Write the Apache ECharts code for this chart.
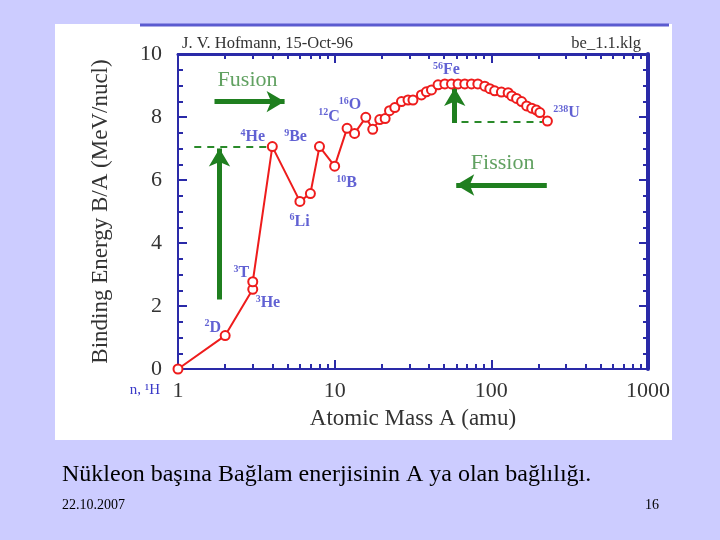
<!DOCTYPE html>
<html>
<head>
<meta charset="utf-8">
<script src="https://cdn.jsdelivr.net/npm/echarts@6/dist/echarts.min.js"></script>
<style>html,body{margin:0;padding:0;background:#ccccff;}#c{width:720px;height:540px;}</style>
</head>
<body>
<div id="c"></div>
<script>
// ---- data ----
var massA = [1, 2, 3, 3, 4, 6, 7, 8, 10, 12, 13.4, 15.8, 17.5, 19.4, 21, 22.4, 24.2, 26.7, 29.4, 31.6, 35.8, 38.5, 41.5, 45.7, 50.5, 55.7, 61.3, 67.7, 74.7, 82, 90.8, 97.8, 105, 116, 128, 135, 145, 156, 168, 181, 194, 204, 228];
var bindingE = [0, 1.06, 2.53, 2.77, 7.06, 5.32, 5.57, 7.06, 6.44, 7.64, 7.48, 7.99, 7.61, 7.92, 7.95, 8.20, 8.30, 8.49, 8.54, 8.54, 8.70, 8.80, 8.86, 9.02, 9.05, 9.05, 9.05, 9.05, 9.05, 9.05, 8.98, 8.90, 8.83, 8.79, 8.77, 8.67, 8.59, 8.49, 8.35, 8.28, 8.22, 8.14, 7.87];

var isoMass = ['2', '3', '3', '4', '9', '6', '10', '12', '16', '56', '238'];
var isoSymbol = ['D', 'T', 'He', 'He', 'Be', 'Li', 'B', 'C', 'O', 'Fe', 'U'];
var isoA = [1.67, 2.54, 3.75, 3.0, 5.63, 5.98, 11.9, 9.2, 12.5, 51.6, 302];
var isoB = [1.32, 3.04, 2.09, 7.36, 7.36, 4.68, 5.9, 8.01, 8.38, 9.49, 8.12];

var xTickValues = [0, 1, 2, 3];           // log10 positions of decades
var xTickLabels = ['1', '10', '100', '1000'];
var xMinorMultipliers = [2, 3, 4, 5, 6, 7, 8, 9];
var yTickInterval = 2;

var annoTexts = ['Fusion', 'Fission'];
var annoA = [2.78, 118];
var annoB = [9.17, 6.54];

// arrows [A1,B1,A2,B2]
var arrowFusion = [1.71, 8.49, 4.79, 8.49];
var arrowUp = [1.84, 2.21, 1.84, 7.0];
var arrowFission = [226, 5.84, 59.7, 5.84];
var arrowFe = [58.4, 7.81, 58.4, 8.92];
var dashHe = [1.27, 7.06, 4.2, 7.06];
var dashU = [64.5, 7.84, 212, 7.84];

// ---- chart ----
var blue = '#2a2aa8';
var green = '#1f7f1f';
var serif = 'Liberation Serif';

var minorPos = [];
for (var k = 0; k < 3; k++) {
  xMinorMultipliers.forEach(function (m) { minorPos.push(Math.log10(m) + k); });
}

var lineData = massA.map(function (a, i) { return [a, bindingE[i]]; });
var isoData = isoSymbol.map(function (n, i) {
  return { name: n, mass: isoMass[i], value: [isoA[i], isoB[i]],
    label: { formatter: '{s|' + isoMass[i] + '}{n|' + n + '}' } };
});
var annoData = annoTexts.map(function (n, i) { return { name: n, value: [annoA[i], annoB[i]] }; });

function seg(p) { return [{ coord: [p[0], p[1]] }, { coord: [p[2], p[3]] }]; }

var chart = echarts.init(document.getElementById('c'), null, { renderer: 'canvas' });
var tickAxisBase = {
  type: 'value', min: 0, max: 3, interval: 1,
  axisLine: { show: false, onZero: false },
  splitLine: { show: false },
  axisLabel: { show: false }
};
chart.setOption({
  backgroundColor: '#ccccff',
  animation: false,
  graphic: [
    { type: 'rect', shape: { x: 55, y: 24, width: 617, height: 416 }, style: { fill: '#ffffff' }, z: -10 },
    { type: 'line', shape: { x1: 140, y1: 25, x2: 669, y2: 25 }, style: { stroke: '#5b5bd0', lineWidth: 3 }, z: -5 },
    { type: 'text', x: 182, y: 44, style: { text: 'J. V. Hofmann, 15-Oct-96', font: '16.5px "Liberation Serif"', fill: '#333', textVerticalAlign: 'middle' } },
    { type: 'text', x: 641, y: 44, style: { text: 'be_1.1.klg', font: '16.5px "Liberation Serif"', fill: '#333', textAlign: 'right', textVerticalAlign: 'middle' } },
    { type: 'text', x: 160, y: 390, style: { text: 'n, ¹H', font: '15px "Liberation Serif"', fill: '#3a3ac8', textAlign: 'right', textVerticalAlign: 'middle' } },
    { type: 'text', x: 62, y: 475, style: { text: 'Nükleon başına Bağlam enerjisinin A ya olan bağlılığı.', font: '24px "Liberation Serif"', fill: '#000', textVerticalAlign: 'middle' } },
    { type: 'text', x: 62, y: 505, style: { text: '22.10.2007', font: '14px "Liberation Serif"', fill: '#000', textVerticalAlign: 'middle' } },
    { type: 'text', x: 659, y: 505, style: { text: '16', font: '14px "Liberation Serif"', fill: '#000', textAlign: 'right', textVerticalAlign: 'middle' } }
  ],
  grid: { left: 178, right: 72, top: 54, bottom: 171, containLabel: false },
  xAxis: [
    { type: 'log', logBase: 10, min: 1, max: 1000, show: false },
    Object.assign({}, tickAxisBase, {
      position: 'bottom',
      name: 'Atomic Mass A (amu)', nameLocation: 'middle', nameGap: 38,
      nameTextStyle: { fontFamily: serif, fontSize: 23, color: '#333' },
      axisLine: { show: true, onZero: false, lineStyle: { color: blue, width: 2 } },
      axisTick: { show: true, inside: true, length: 9, lineStyle: { color: blue, width: 2 } },
      axisLabel: { show: true, margin: 11, fontFamily: serif, fontSize: 22, color: '#333',
        formatter: function (v) { return xTickLabels[xTickValues.indexOf(Math.round(v))]; } }
    }),
    Object.assign({}, tickAxisBase, {
      position: 'bottom',
      axisTick: { show: true, inside: true, length: 5, customValues: minorPos, lineStyle: { color: blue, width: 2 } }
    }),
    Object.assign({}, tickAxisBase, {
      position: 'top',
      axisLine: { show: true, onZero: false, lineStyle: { color: blue, width: 3 } },
      axisTick: { show: true, inside: true, length: 9, lineStyle: { color: blue, width: 2 } }
    }),
    Object.assign({}, tickAxisBase, {
      position: 'top',
      axisTick: { show: true, inside: true, length: 5, customValues: minorPos, lineStyle: { color: blue, width: 2 } }
    })
  ],
  yAxis: [
    {
      type: 'value', min: 0, max: 10, interval: yTickInterval, position: 'left',
      name: 'Binding Energy B/A (MeV/nucl)', nameLocation: 'middle', nameGap: 66, nameRotate: 90,
      nameTextStyle: { fontFamily: serif, fontSize: 23, color: '#333' },
      axisLine: { show: true, onZero: false, lineStyle: { color: blue, width: 2 } },
      axisTick: { show: true, inside: true, length: 9, lineStyle: { color: blue, width: 2 } },
      minorTick: { show: true, splitNumber: 4, length: 5, lineStyle: { color: blue, width: 2 } },
      splitLine: { show: false }, minorSplitLine: { show: false },
      axisLabel: { margin: 16, fontFamily: serif, fontSize: 22, color: '#333' }
    },
    {
      type: 'value', min: 0, max: 10, interval: yTickInterval, position: 'right',
      axisLine: { show: true, onZero: false, lineStyle: { color: blue, width: 4 } },
      axisTick: { show: true, inside: true, length: 9, lineStyle: { color: blue, width: 2 } },
      minorTick: { show: true, splitNumber: 4, length: 5, lineStyle: { color: blue, width: 2 } },
      splitLine: { show: false },
      axisLabel: { show: false }
    }
  ],
  series: [
    {
      type: 'line', xAxisIndex: 0, yAxisIndex: 0, data: lineData,
      lineStyle: { color: '#ee1c1c', width: 2 },
      symbol: 'circle', symbolSize: 9,
      itemStyle: { color: '#ffffff', borderColor: '#ee1c1c', borderWidth: 2 },
      z: 5, clip: false
    },
    {
      type: 'scatter', xAxisIndex: 0, yAxisIndex: 0, data: isoData,
      symbolSize: 0, silent: true,
      label: {
        show: true, position: 'inside', color: '#3a3ac8',
        rich: {
          s: { fontFamily: serif, fontSize: 10, fontWeight: 'bold', color: '#3a3ac8', verticalAlign: 'top', lineHeight: 18 },
          n: { fontFamily: serif, fontSize: 16, fontWeight: 'bold', color: '#3a3ac8', lineHeight: 18 }
        }
      }
    },
    {
      type: 'scatter', xAxisIndex: 0, yAxisIndex: 0, data: annoData,
      symbolSize: 0, silent: true,
      label: { show: true, position: 'inside', formatter: '{b}', fontFamily: serif, fontSize: 22, color: '#3a8a3a' }
    },
    {
      type: 'line', xAxisIndex: 0, yAxisIndex: 0, data: [], silent: true,
      markLine: {
        silent: true, animation: false,
        symbol: ['none', 'arrow'], symbolSize: [16, 18],
        label: { show: false },
        lineStyle: { color: green, width: 5, type: 'solid' },
        emphasis: { disabled: true },
        data: [seg(arrowFusion), seg(arrowUp), seg(arrowFission), seg(arrowFe)]
      }
    },
    {
      type: 'line', xAxisIndex: 0, yAxisIndex: 0, data: [], silent: true,
      markLine: {
        silent: true, animation: false,
        symbol: ['none', 'none'],
        label: { show: false },
        lineStyle: { color: '#2a8a2a', width: 2, type: [7, 6] },
        emphasis: { disabled: true },
        data: [seg(dashHe), seg(dashU)]
      }
    }
  ]
});
</script>
</body>
</html>
